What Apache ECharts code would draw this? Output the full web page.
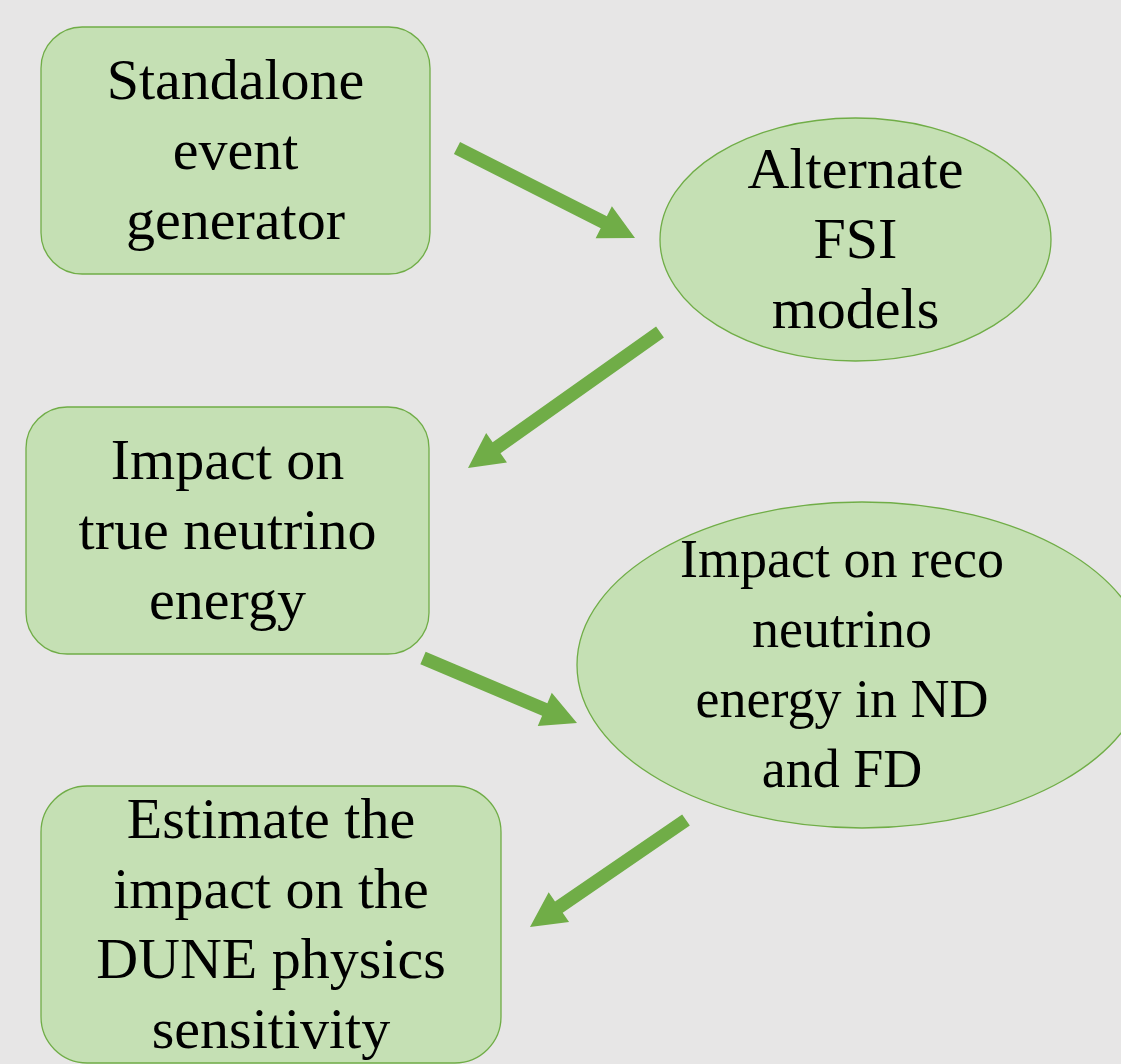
<!DOCTYPE html>
<html>
<head>
<meta charset="utf-8">
<title>FSI study flow</title>
<script src="https://cdn.jsdelivr.net/npm/echarts@6/dist/echarts.min.js"></script>
<style>
  html, body { margin: 0; padding: 0; background: #e7e6e6; }
  #chart { width: 1121px; height: 1064px; }
</style>
</head>
<body>
<div id="chart"></div>
<script>
// 流程图节点文字
const nodeLabels = [
  'Standalone\nevent\ngenerator',
  'Alternate\nFSI\nmodels',
  'Impact on\ntrue neutrino\nenergy',
  'Impact on reco\nneutrino\nenergy in ND\nand FD',
  'Estimate the\nimpact on the\nDUNE physics\nsensitivity'
]
const nodeShapes = ['roundRect', 'ellipse', 'roundRect', 'ellipse', 'roundRect']
// 箭头连接 (from -> to)
const links = [[0, 1], [1, 2], [2, 3], [3, 4]]

// 布局 (坐标轴单位 = 像素)
const nodeBoxes = [
  [41, 27, 430, 274],
  [660, 118, 1051, 361],
  [26, 407, 429, 654],
  [577, 502, 1147, 828],
  [41, 786, 501, 1063]
]
const labelShiftX = [0, 0, 0, -20, 0]
const labelFontSizes = [58, 58, 58, 54, 58]
const arrowTails = [[457, 148], [660, 332], [423, 658], [686, 820]]
const arrowTips = [[635, 238], [468, 468], [577, 723], [530, 927]]

const FILL = '#c5e0b4'
const STROKE = '#70ad47'
const FONT = '"Liberation Serif", "Times New Roman", serif'

const chart = echarts.init(document.getElementById('chart'))

const renderNode = (params, api) => {
  const i = params.dataIndex
  const p0 = api.coord([api.value(0), api.value(1)])
  const p1 = api.coord([api.value(2), api.value(3)])
  const x = Math.min(p0[0], p1[0])
  const y = Math.min(p0[1], p1[1])
  const w = Math.abs(p1[0] - p0[0])
  const h = Math.abs(p1[1] - p0[1])
  let shape
  if (nodeShapes[i] === 'ellipse') {
    shape = {
      type: 'ellipse',
      shape: { cx: x + w / 2, cy: y + h / 2, rx: w / 2, ry: h / 2 },
      style: { fill: FILL, stroke: STROKE, lineWidth: 1.3 }
    }
  } else {
    shape = {
      type: 'rect',
      shape: { x: x, y: y, width: w, height: h, r: Math.min(w, h) * 0.1667 },
      style: { fill: FILL, stroke: STROKE, lineWidth: 1.3 }
    }
  }
  return {
    type: 'group',
    children: [
      shape,
      {
        type: 'text',
        style: {
          text: nodeLabels[i],
          x: x + w / 2 + labelShiftX[i],
          y: y + h / 2 + 3,
          align: 'center',
          verticalAlign: 'middle',
          fontFamily: FONT,
          fontSize: labelFontSizes[i],
          lineHeight: 70,
          fill: '#000'
        }
      }
    ]
  }
}

const renderArrow = (params, api) => {
  const a = api.coord([api.value(0), api.value(1)])
  const b = api.coord([api.value(2), api.value(3)])
  const dx = b[0] - a[0]
  const dy = b[1] - a[1]
  const len = Math.sqrt(dx * dx + dy * dy)
  const ux = dx / len
  const uy = dy / len
  const nx = -uy
  const ny = ux
  const shaftHalf = 6.8
  const headLen = 35
  const headHalf = 18
  const bx = b[0] - ux * headLen
  const by = b[1] - uy * headLen
  const points = [
    [a[0] + nx * shaftHalf, a[1] + ny * shaftHalf],
    [bx + nx * shaftHalf, by + ny * shaftHalf],
    [bx + nx * headHalf, by + ny * headHalf],
    [b[0], b[1]],
    [bx - nx * headHalf, by - ny * headHalf],
    [bx - nx * shaftHalf, by - ny * shaftHalf],
    [a[0] - nx * shaftHalf, a[1] - ny * shaftHalf]
  ]
  return {
    type: 'polygon',
    shape: { points: points },
    style: { fill: STROKE }
  }
}

const option = {
  backgroundColor: '#e7e6e6',
  animation: false,
  grid: { left: 0, right: 0, top: 0, bottom: 0 },
  xAxis: { type: 'value', min: 0, max: 1121, show: false },
  yAxis: { type: 'value', min: 0, max: 1064, inverse: true, show: false },
  series: [
    {
      type: 'custom',
      name: 'nodes',
      renderItem: renderNode,
      encode: { x: [0, 2], y: [1, 3] },
      data: nodeBoxes
    },
    {
      type: 'custom',
      name: 'links',
      renderItem: renderArrow,
      encode: { x: [0, 2], y: [1, 3] },
      data: links.map((l, k) => [arrowTails[k][0], arrowTails[k][1], arrowTips[k][0], arrowTips[k][1]])
    }
  ]
}

chart.setOption(option)
</script>
</body>
</html>
